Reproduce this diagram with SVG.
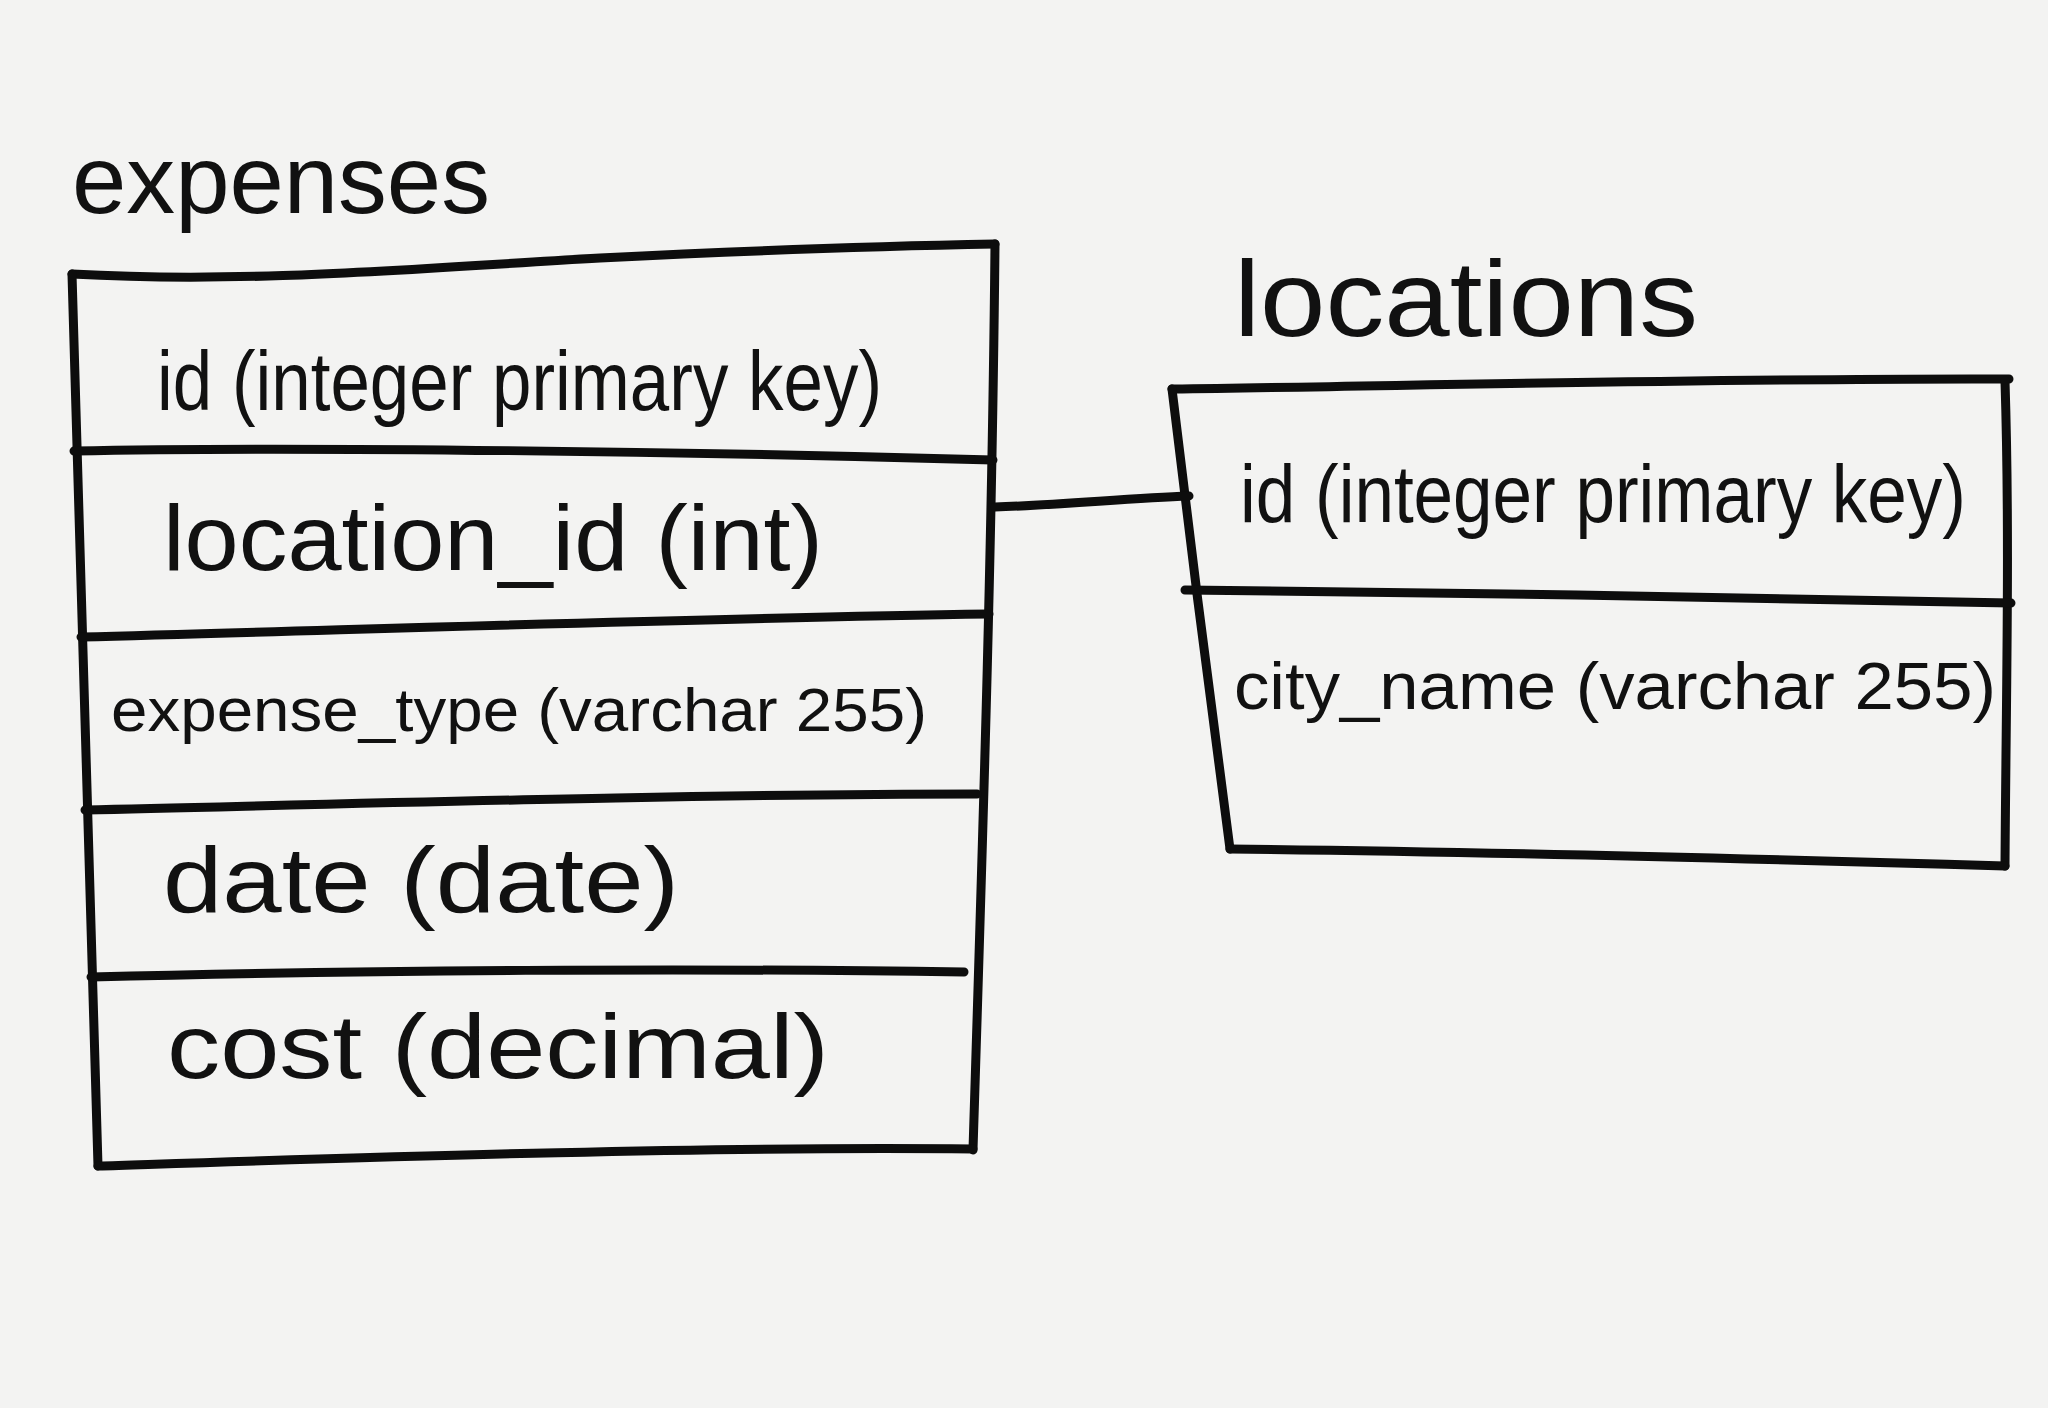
<svg xmlns="http://www.w3.org/2000/svg" width="2048" height="1408" viewBox="0 0 2048 1408">
<defs>
<style>
.ln{fill:none;stroke:#0d0d0d;stroke-width:9;stroke-linecap:round;stroke-linejoin:round}
.t{font-family:"Liberation Sans",Arial,sans-serif;fill:#111;}
</style>
</defs>
<rect width="2048" height="1408" fill="#f3f3f2"/>
<g id="expenses">
<text class="t" x="72" y="213" font-size="96" textLength="418" lengthAdjust="spacingAndGlyphs">expenses</text>
<path class="ln" d="M72,274 C250,284 420,268 600,258 C760,250 880,246 995,244"/>
<path class="ln" d="M72,274 C80,560 88,860 98,1166"/>
<path class="ln" d="M995,244 C992,560 982,860 973,1150"/>
<path class="ln" d="M98,1166 C350,1158 700,1146 973,1149"/>
<path class="ln" d="M74,451 C300,446 700,452 993,460"/>
<path class="ln" d="M81,637 C350,630 700,618 989,614"/>
<path class="ln" d="M85,810 C350,804 700,794 977,794"/>
<path class="ln" d="M91,977 C350,970 700,968 964,972"/>
<text class="t" x="157" y="410" font-size="84" textLength="725" lengthAdjust="spacingAndGlyphs">id (integer primary key)</text>
<text class="t" x="163" y="570" font-size="92" textLength="660" lengthAdjust="spacingAndGlyphs">location_id (int)</text>
<text class="t" x="111" y="731" font-size="62" textLength="816" lengthAdjust="spacingAndGlyphs">expense_type (varchar 255)</text>
<text class="t" x="163" y="912" font-size="92" textLength="516" lengthAdjust="spacingAndGlyphs">date (date)</text>
<text class="t" x="167" y="1078" font-size="90" textLength="662" lengthAdjust="spacingAndGlyphs">cost (decimal)</text>
</g>
<g id="locations">
<text class="t" x="1234" y="336" font-size="108" textLength="464" lengthAdjust="spacingAndGlyphs">locations</text>
<path class="ln" d="M1172,389 C1450,385 1750,378 2009,379"/>
<path class="ln" d="M1172,389 C1190,540 1210,700 1230,849"/>
<path class="ln" d="M2005,381 C2010,540 2006,700 2005,866"/>
<path class="ln" d="M1230,849 C1500,852 1800,860 2005,866"/>
<path class="ln" d="M1185,590 C1450,592 1750,598 2011,603"/>
<text class="t" x="1240" y="522" font-size="82" textLength="726" lengthAdjust="spacingAndGlyphs">id (integer primary key)</text>
<text class="t" x="1234" y="709" font-size="66" textLength="762" lengthAdjust="spacingAndGlyphs">city_name (varchar 255)</text>
</g>
<g id="connectors">
<path class="ln" d="M995,507 C1060,505 1130,498 1189,496"/>
</g>
</svg>
